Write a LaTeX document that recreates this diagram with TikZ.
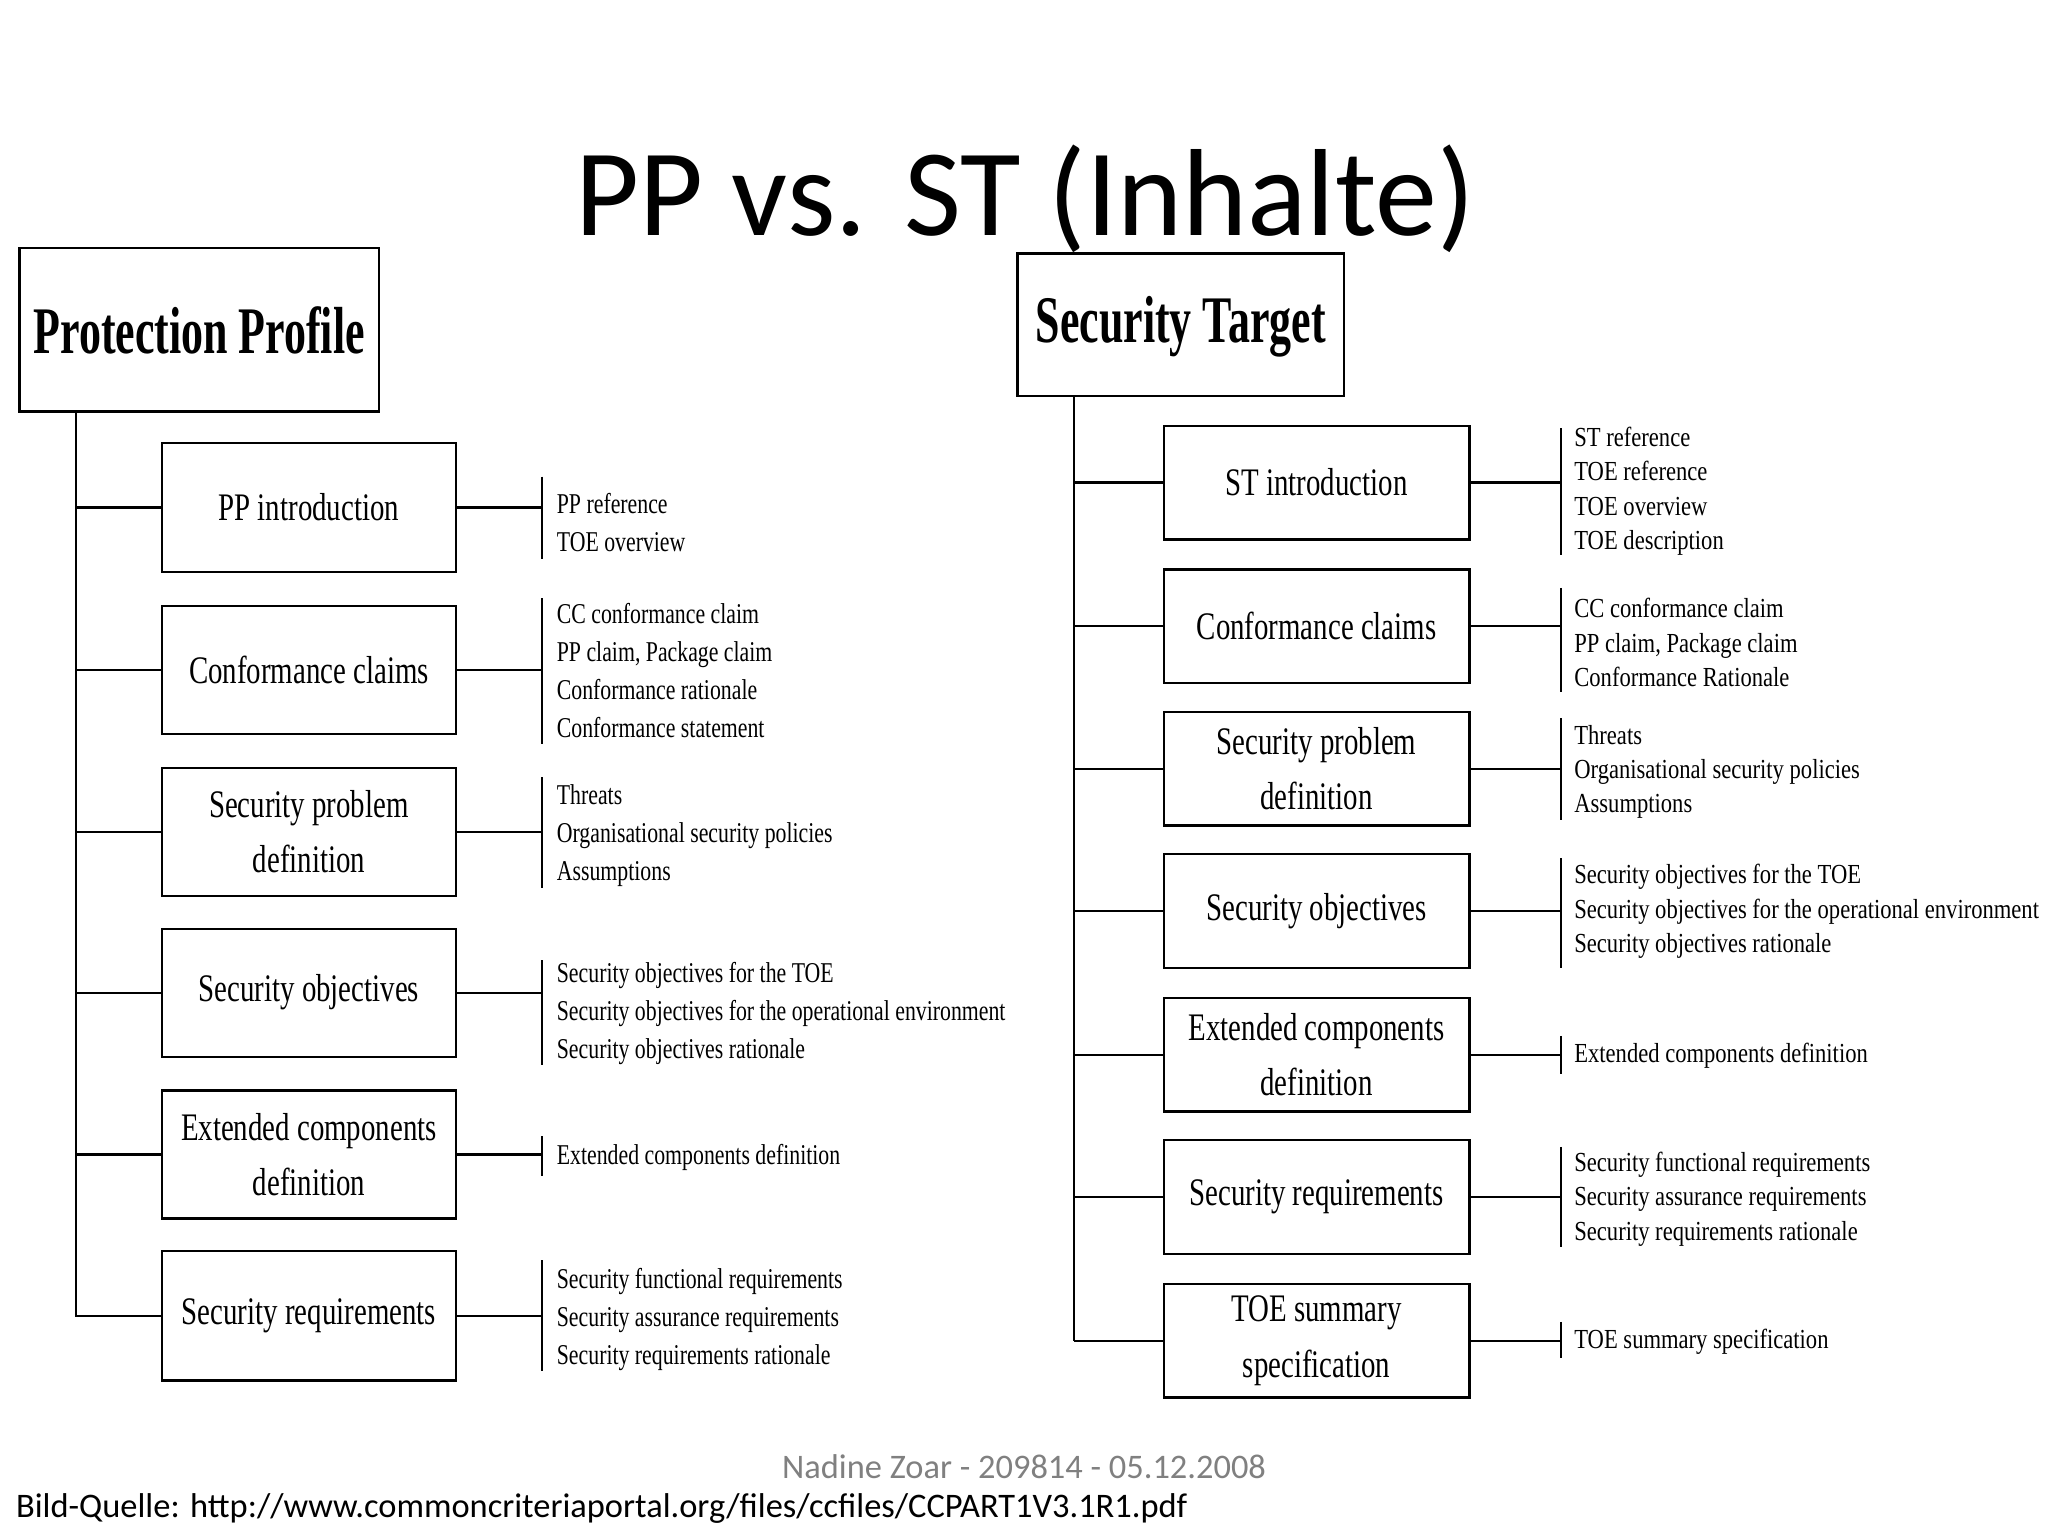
\documentclass[tikz,border=0pt]{standalone}
\usepackage{fontspec}
\setmainfont{Carlito}
\newfontfamily\cond[FakeStretch=0.74]{Liberation Serif}
\newfontfamily\condb[FakeStretch=0.66]{Liberation Serif}
\newfontfamily\condl[FakeStretch=0.76]{Liberation Serif}
\newfontfamily\condr[FakeStretch=0.82]{Liberation Serif}
\begin{document}
\begin{tikzpicture}[x=0.02cm,y=-0.02cm,
  hdr/.style={font=\condb\bfseries\fontsize{29}{30}\selectfont},
  sub/.style={draw,line width=1pt,inner sep=0pt,align=center,font=\cond\fontsize{17}{24}\selectfont},
  lst/.style={anchor=west,align=left,inner sep=0pt,font=\condl\fontsize{12.5}{16.5}\selectfont},
  lstr/.style={anchor=west,align=left,inner sep=0pt,font=\condr\fontsize{12}{15}\selectfont},
  ln/.style={line width=1pt}]
\useasboundingbox (0,0) rectangle (1568,1176);
\node[font=\fontsize{54}{60}\selectfont] (title) at (785,152) {PP vs. ST (Inhalte)};
% ---------- PP ----------
\draw[line width=1pt] (15,190) rectangle (290,315);
\node[hdr] (ppt) at (152.5,253) {Protection Profile};
\coordinate (ptop) at (58,315);
\coordinate (pbot) at (58,1008);
\draw[ln] (ptop) -- (pbot);
\foreach \n/\t/\b/\txt in {p1/339/438/{PP introduction},p2/464/562/{Conformance claims},p3/588/686/{Security problem\\definition},p4/711/809/{Security objectives},p5/835/933/{Extended components\\definition},p6/958/1057/{Security requirements}}{
  \node[sub,minimum width=4.5cm,minimum height={(\b-\t)*0.02cm}] (\n) at (236.5,{(\t+\b)/2}) {\txt};
  \draw[ln] (58,{(\t+\b)/2}) -- (\n.west);
  \coordinate (\n c) at (415,{(\t+\b)/2});
  \draw[ln] (\n.east) -- (\n c);
}
\node[lst] (l1) at (426,400) {PP reference\\TOE overview};
\node[lst] (l2) at (426,513.5) {CC conformance claim\\PP claim, Package claim\\Conformance rationale\\Conformance statement};
\node[lst] (l3) at (426,639.5) {Threats\\Organisational security policies\\Assumptions};
\node[lst] (l4) at (426,776) {Security objectives for the TOE\\Security objectives for the operational environment\\Security objectives rationale};
\node[lst] (l5) at (426,886) {Extended components definition};
\node[lst] (l6) at (426,1010) {Security functional requirements\\Security assurance requirements\\Security requirements rationale};
\draw[ln] (415,365) -- (415,428);
\draw[ln] (415,458) -- (415,570);
\draw[ln] (415,595) -- (415,680);
\draw[ln] (415,735) -- (415,815);
\draw[ln] (415,870) -- (415,900);
\draw[ln] (415,965) -- (415,1050);
% ---------- ST ----------
\draw[line width=1pt] (779,194) rectangle (1029,303);
\node[hdr] (sth) at (904,250) {Security Target};
\coordinate (stop) at (822,303);
\coordinate (sbot) at (822,1027);
\draw[ln] (stop) -- (sbot);
\foreach \n/\t/\b/\txt in {s1/326/413/{ST introduction},s2/436/523/{Conformance claims},s3/545/632/{Security problem\\definition},s4/654/741/{Security objectives},s5/764/851/{Extended components\\definition},s6/873/960/{Security requirements},s7/983/1070/{TOE summary\\specification}}{
  \node[sub,minimum width=4.68cm,minimum height={(\b-\t)*0.02cm}] (\n) at (1008,{(\t+\b)/2}) {\txt};
  \draw[ln] (822,{(\t+\b)/2}) -- (\n.west);
  \coordinate (\n c) at (1195,{(\t+\b)/2});
  \draw[ln] (\n.east) -- (\n c);
}
\node[lstr] (r1) at (1205,376) {ST reference\\TOE reference\\TOE overview\\TOE description};
\node[lstr] (r2) at (1205,492) {CC conformance claim\\PP claim, Package claim\\Conformance Rationale};
\node[lstr] (r3) at (1205,591) {Threats\\Organisational security policies\\Assumptions};
\node[lstr] (r4) at (1205,698) {Security objectives for the TOE\\Security objectives for the operational environment\\Security objectives rationale};
\node[lstr] (r5) at (1205,808) {Extended components definition};
\node[lstr] (r6) at (1205,918) {Security functional requirements\\Security assurance requirements\\Security requirements rationale};
\node[lstr] (r7) at (1205,1027) {TOE summary specification};
\draw[ln] (1195,328) -- (1195,425);
\draw[ln] (1195,450) -- (1195,530);
\draw[ln] (1195,550) -- (1195,628);
\draw[ln] (1195,657) -- (1195,741);
\draw[ln] (1195,793) -- (1195,822);
\draw[ln] (1195,878) -- (1195,955);
\draw[ln] (1195,1012) -- (1195,1040);
% ---------- footer ----------
\node[text=gray,font=\fontsize{15}{16}\selectfont] (auth) at (784,1123) {Nadine Zoar - 209814 - 05.12.2008};
\node[anchor=west,inner sep=0pt,font=\fontsize{15}{17}\selectfont] (src) at (12,1155) {Bild-Quelle: http://www.commoncriteriaportal.org/files/ccfiles/CCPART1V3.1R1.pdf};
\end{tikzpicture}
\end{document}
